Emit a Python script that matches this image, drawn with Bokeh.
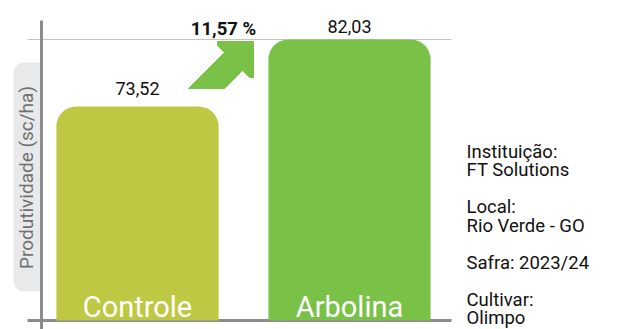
import numpy as np
from bokeh.plotting import figure
from bokeh.models import Range1d
from bokeh.core.properties import value
from bokeh.embed import file_html
from bokeh.resources import INLINE

# ---- data ----
categories = ["Controle", "Arbolina"]
productivity = [73.52, 82.03]
value_labels = ["73,52", "82,03"]
gain_label = "11,57 %"
y_axis_label = "Produtividade (sc/ha)"
info_lines = ["Instituição:", "FT Solutions", "", "Local:", "Rio Verde - GO", "",
              "Safra: 2023/24", "", "Cultivar:", "Olimpo"]
bar_colors = ["#BFC843", "#79C147"]

# ---- layout scale (pixels <-> data) ----
W, H = 643, 329
PX_X = 212.0      # px per category step
PX_Y = 7.873      # px per sc/ha
BASE = 46.34      # value at the baseline
BASE_PX = 320
X0_PX = 137


def xd(px):
    return (px - X0_PX) / PX_X


def yd(py):
    return BASE + (BASE_PX - py) / PX_Y


FONT = value("Roboto")

p = figure(width=W, height=H, x_range=Range1d(xd(0), xd(W)), y_range=Range1d(yd(H), yd(0)),
           output_backend="svg", toolbar_location=None, x_axis_type=None, y_axis_type=None,
           min_border=0)
p.outline_line_color = None
p.background_fill_color = "white"
p.border_fill_color = "white"

xs = np.arange(len(categories))

# y-axis label box
p.quad(left=[xd(13)], right=[xd(41)], top=[yd(62)], bottom=[yd(291)],
       fill_color="#E8E9EA", line_color=None, border_radius=(10, 0, 0, 10))
p.text(x=[xd(26)], y=[yd(177)], text=[y_axis_label], angle=np.pi / 2,
       text_align="center", text_baseline="middle", text_font=FONT,
       text_font_size="19px", text_color="#707070")

# baseline and reference line
p.segment(x0=[xd(27)], x1=[xd(451)], y0=[BASE], y1=[BASE], line_color="#8C8C8C", line_width=3)
p.segment(x0=[xd(27)], x1=[xd(451)], y0=[productivity[1]], y1=[productivity[1]],
          line_color="#C4C4C4", line_width=1)

# bars
p.vbar(x=xs, top=productivity, bottom=BASE, width=0.765, fill_color=bar_colors,
       line_color=None, border_radius=(20, 20, 0, 0))

# vertical axis line
p.segment(x0=[xd(41)], x1=[xd(41)], y0=[yd(20)], y1=[yd(H)], line_color="#8C8C8C", line_width=3)

# value labels
label_gap_px = [18, 13]
p.text(x=xs, y=[v + g / PX_Y for v, g in zip(productivity, label_gap_px)], text=value_labels,
       text_align="center", text_baseline="alphabetic", text_font=FONT,
       text_font_size="18px", text_color="#111111")

# category labels inside bars
p.text(x=xs, y=[BASE + 14 / PX_Y] * len(xs), text=categories, text_align="center",
       text_baseline="alphabetic", text_font=FONT, text_font_size="29px", text_color="white")

# gain arrow (shape in pixel offsets from tip)
tip_px = (253, 41)
shape = [(-65, 47), (-29, 11), (-36, 4), (-36, 0), (0, 0), (0, 36), (-4, 36), (-11, 29), (-29, 47)]
p.patch(x=[xd(tip_px[0] + dx) for dx, dy in shape], y=[yd(tip_px[1] + dy) for dx, dy in shape],
        fill_color="#79C147", line_color="#79C147", line_width=1, line_join="round")
p.text(x=[xd(223)], y=[yd(28)], text=[gain_label], text_align="center",
       text_baseline="alphabetic", text_font=FONT, text_font_size="18.5px",
       text_font_style="bold", text_color="#111111")

# info text
first_baseline = 151
line_step = 18.5
info_y = [yd(first_baseline + i * line_step) for i in range(len(info_lines))]
p.text(x=[xd(466)] * len(info_lines), y=info_y, text=info_lines, text_align="left",
       text_baseline="alphabetic", text_font=FONT, text_font_size="18.5px", text_color="#111111")

open("out.html", "w").write(file_html(p, INLINE))
